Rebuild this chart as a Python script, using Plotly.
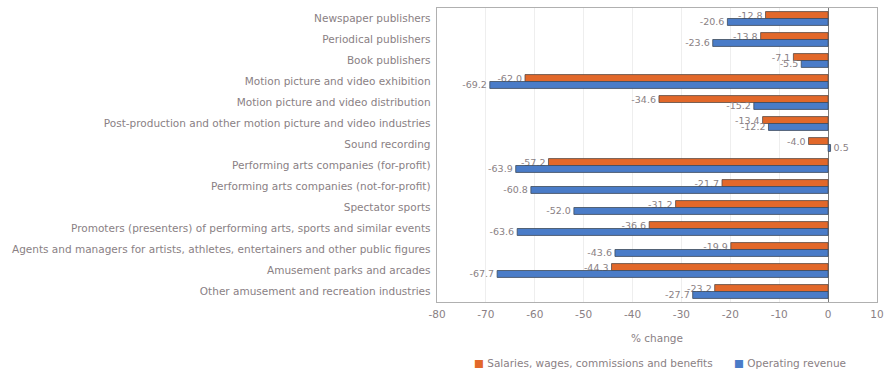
import plotly.graph_objects as go

categories = [
    "Newspaper publishers",
    "Periodical publishers",
    "Book publishers",
    "Motion picture and video exhibition",
    "Motion picture and video distribution",
    "Post-production and other motion picture and video industries",
    "Sound recording",
    "Performing arts companies (for-profit)",
    "Performing arts companies (not-for-profit)",
    "Spectator sports",
    "Promoters (presenters) of performing arts, sports and similar events",
    "Agents and managers for artists, athletes, entertainers and other public figures",
    "Amusement parks and arcades",
    "Other amusement and recreation industries",
]
salaries = [-12.8, -13.8, -7.1, -62.0, -34.6, -13.4, -4.0, -57.2, -21.7, -31.2, -36.6, -19.9, -44.3, -23.2]
revenue = [-20.6, -23.6, -5.5, -69.2, -15.2, -12.2, 0.5, -63.9, -60.8, -52.0, -63.6, -43.6, -67.7, -27.7]
x_ticks = [-80, -70, -60, -50, -40, -30, -20, -10, 0, 10]
series_names = ["Salaries, wages, commissions and benefits", "Operating revenue"]
series_colors = ["#e2682a", "#4a7cc8"]

FONT = "DejaVu Sans"
TXT = "#8a7f84"
FS = 10.5

fig = go.Figure()
for vals, name, col, edge in [(salaries, series_names[0], series_colors[0], "#5a4a44"),
                              (revenue, series_names[1], series_colors[1], "#3d4a5a")]:
    fig.add_trace(go.Bar(
        y=categories, x=vals, orientation="h", name=name, showlegend=False,
        marker=dict(color=col, line=dict(color=edge, width=0.8)),
        text=[f"{v:.1f}" for v in vals], textposition="outside",
        constraintext="none",
        textfont=dict(family=FONT, size=9.5, color=TXT), cliponaxis=False,
    ))

# legend drawn as annotations below the axis title
legend_x = [0.08, 0.67]
for name, col, lx in zip(series_names, series_colors, legend_x):
    fig.add_annotation(
        xref="paper", yref="paper", x=lx, y=-0.208, xanchor="left", yanchor="middle",
        text=f"<span style='color:{col}'>■</span> {name}", showarrow=False,
        font=dict(family=FONT, size=FS, color=TXT),
    )

fig.update_layout(
    width=891, height=370,
    margin=dict(l=437, r=14, t=8, b=68),
    barmode="group", bargap=0.34, bargroupgap=0.0,
    plot_bgcolor="white", paper_bgcolor="white",
    font=dict(family=FONT, size=FS, color=TXT),
    showlegend=False,
    xaxis=dict(
        range=[-80, 10], tickvals=x_ticks, ticktext=[str(t) for t in x_ticks],
        showgrid=True, gridcolor="#eeeeee", zeroline=True, zerolinecolor="#7a7a7a",
        zerolinewidth=1, showline=True, linecolor="#b0b0b0", mirror=True,
        ticklabelstandoff=2,
        title=dict(text="% change", font=dict(family=FONT, size=FS, color=TXT), standoff=16),
        tickfont=dict(family=FONT, size=FS, color=TXT),
    ),
    yaxis=dict(
        autorange="reversed", showline=True, linecolor="#b0b0b0", mirror=True,
        showgrid=False, ticks="", ticksuffix=" ",
        tickfont=dict(family=FONT, size=FS, color=TXT),
    ),
)

fig.write_html("out.html")
